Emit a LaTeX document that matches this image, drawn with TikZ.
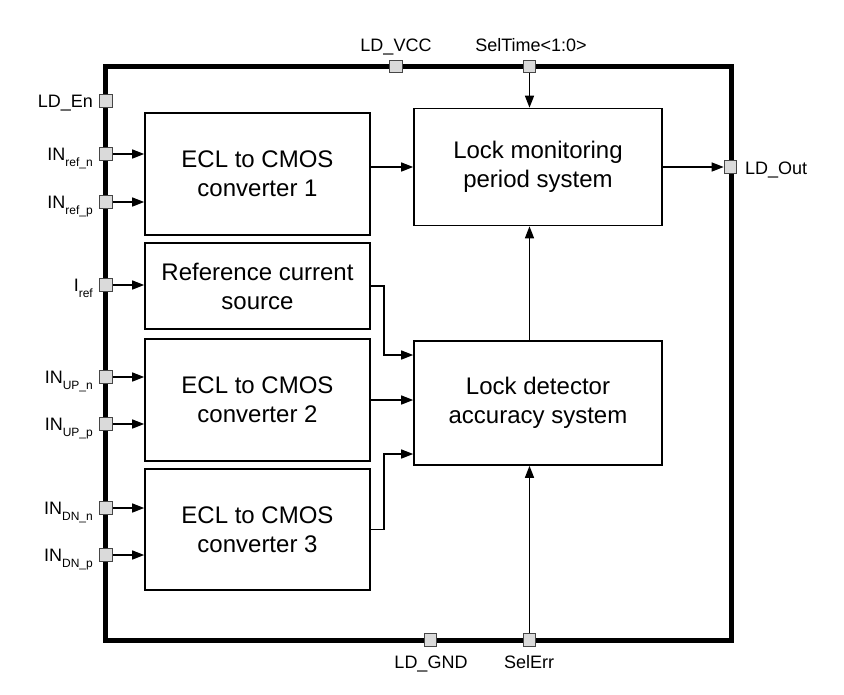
\documentclass[tikz,border=0pt]{standalone}
\usepackage{fontspec}
\setmainfont{Liberation Sans}
\usetikzlibrary{positioning,arrows.meta,calc}
\definecolor{ChipLine}{RGB}{0,0,0}
\definecolor{PinFill}{RGB}{218,218,218}
\definecolor{PinEdge}{RGB}{70,70,70}
\newcommand{\pinsub}[1]{\raisebox{-0.32em}{\fontsize{12}{12}\selectfont #1}}
\tikzset{
  chip block/.style={
    draw=ChipLine,
    line width=1.6pt,
    align=center,
    inner sep=0pt,
    font=\fontsize{24}{29}\selectfont
  },
  chip pin/.style={
    draw=PinEdge,
    fill=PinFill,
    line width=1.1pt,
    minimum size=12.5pt,
    inner sep=0pt
  },
  pin label/.style={font=\fontsize{18}{21}\selectfont, inner sep=0pt},
  sig arrow/.style={-{Triangle[length=12pt,width=9pt]}, line width=1.4pt}
}

\begin{document}
\begin{tikzpicture}[x=1pt,y=-1pt]
\useasboundingbox[fill=white] (0,0) rectangle (844,694);
% outer frame
\draw[line width=5pt] (105,66.5) rectangle (731,640);
% blocks
\node[chip block, minimum width=225pt, minimum height=122pt] (ecla) at (257.5,174) {ECL to CMOS\\converter 1};
\node[chip block, minimum width=225pt, minimum height=86pt] (refsrc) at (257.5,286) {Reference current\\source};
\node[chip block, minimum width=225pt, minimum height=122pt] (eclb) at (257.5,400) {ECL to CMOS\\converter 2};
\node[chip block, minimum width=225pt, minimum height=121pt] (eclc) at (257.5,529.5) {ECL to CMOS\\converter 3};
\node[chip block, minimum width=248pt, minimum height=117pt] (lockmon) at (538,167) {Lock monitoring\\period system};
\node[chip block, minimum width=248pt, minimum height=124pt] (lockdet) at (538,403) {Lock detector\\accuracy system};
% pins, left side
\node[chip pin] (pEn) at (106,101) {};
\node[chip pin] (pRefN) at (106,154) {};
\node[chip pin] (pRefP) at (106,202) {};
\node[chip pin] (pIref) at (106,285) {};
\node[chip pin] (pUpN) at (106,377) {};
\node[chip pin] (pUpP) at (106,424) {};
\node[chip pin] (pDnN) at (106,508) {};
\node[chip pin] (pDnP) at (106,555) {};
% pins, top / bottom / right
\node[chip pin] (pVcc) at (396,66.5) {};
\node[chip pin] (pSelT) at (529.5,66.5) {};
\node[chip pin] (pGnd) at (430.5,640) {};
\node[chip pin] (pSelE) at (529.5,640) {};
\node[chip pin] (pOut) at (730.5,167) {};
% pin labels
\node[pin label, anchor=base east] at (93,107.5) {LD\_En};
\node[pin label, anchor=base east] at (93,160.5) {IN\pinsub{ref\_n}};
\node[pin label, anchor=base east] at (93,208.5) {IN\pinsub{ref\_p}};
\node[pin label, anchor=base east] at (93,291.5) {I\pinsub{ref}};
\node[pin label, anchor=base east] at (93,383.5) {IN\pinsub{UP\_n}};
\node[pin label, anchor=base east] at (93,430.5) {IN\pinsub{UP\_p}};
\node[pin label, anchor=base east] at (93,514.5) {IN\pinsub{DN\_n}};
\node[pin label, anchor=base east] at (93,561.5) {IN\pinsub{DN\_p}};
\node[pin label, anchor=base] at (396,51) {LD\_VCC};
\node[pin label, anchor=base] at (531,51) {SelTime<1:0>};
\node[pin label, anchor=base] at (431,668) {LD\_GND};
\node[pin label, anchor=base] at (529,668) {SelErr};
\node[pin label, anchor=base west] at (745,174) {LD\_Out};
% inputs into the converters
\draw[sig arrow] (pRefN.east) -- (pRefN.east -| ecla.west);
\draw[sig arrow] (pRefP.east) -- (pRefP.east -| ecla.west);
\draw[sig arrow] (pIref.east) -- (pIref.east -| refsrc.west);
\draw[sig arrow] (pUpN.east) -- (pUpN.east -| eclb.west);
\draw[sig arrow] (pUpP.east) -- (pUpP.east -| eclb.west);
\draw[sig arrow] (pDnN.east) -- (pDnN.east -| eclc.west);
\draw[sig arrow] (pDnP.east) -- (pDnP.east -| eclc.west);
% internal connections
\coordinate (detA) at ([yshift=48pt]lockdet.west);
\coordinate (detC) at ([yshift=-51pt]lockdet.west);
\draw[sig arrow] (ecla.east |- lockmon.west) -- (lockmon.west);
\draw[sig arrow] (refsrc.east) -- ++(13,0) |- (detA);
\draw[sig arrow] (eclb.east) -- (eclb.east -| lockdet.west);
\draw[sig arrow] (eclc.east) -- ++(13,0) |- (detC);
\draw[sig arrow] (pSelT |- lockdet.north) -- (pSelT |- lockmon.south);
\draw[sig arrow] (pSelT.south) -- (pSelT |- lockmon.north);
\draw[sig arrow] (pSelE.north) -- (pSelE |- lockdet.south);
\draw[sig arrow] (lockmon.east) -- (pOut.west);
\end{tikzpicture}
\end{document}
